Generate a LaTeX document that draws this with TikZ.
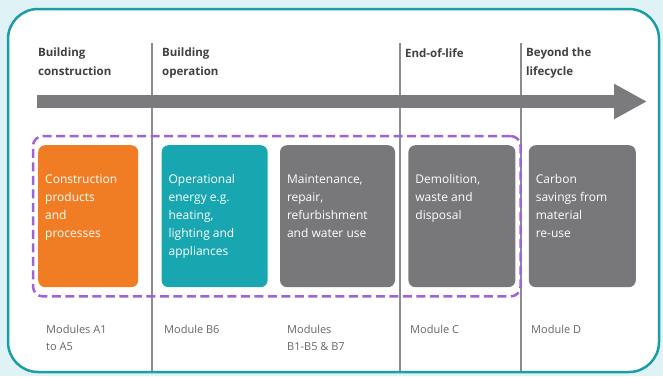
\documentclass[tikz,border=0pt]{standalone}
\usepackage{fontspec}
\setmainfont{Open Sans}
\usetikzlibrary{positioning}
\usetikzlibrary{fit}
\usetikzlibrary{arrows.meta}

\definecolor{pagebg}{HTML}{DFF3F6}
\definecolor{frameteal}{HTML}{1A9EA5}
\definecolor{arrowgrey}{HTML}{7B7B7D}
\definecolor{cardgrey}{HTML}{78787A}
\definecolor{cardorange}{HTML}{F07D23}
\definecolor{cardteal}{HTML}{18A6B0}
\definecolor{scopepurple}{HTML}{A062D6}

% card text: width, lines
\newcommand{\cardtext}[2]{\parbox[t][142pt][t]{#1}{\raggedright\vspace*{26pt}\strut#2}}

\begin{document}
\begin{tikzpicture}[x=1pt, y=-1pt,
  card/.style={rectangle, rounded corners=7pt, inner xsep=7pt, inner ysep=0pt, text=white, font=\fontsize{12}{18}\selectfont},
  stagehead/.style={anchor=north west, align=left, inner sep=0pt, text=black!75, font=\bfseries\fontsize{11.5}{19}\selectfont},
  modlabel/.style={anchor=north west, align=left, inner sep=0pt, text=black!60, font=\fontsize{11}{17}\selectfont},
  divider/.style={draw=black!45, line width=1.5pt},
  node distance = 13pt]
\useasboundingbox (0,0) rectangle (663,376);
\fill[pagebg] (0,0) rectangle (663,376);
\draw[frameteal, line width=2.5pt, fill=white, rounded corners=30pt] (8,9) rectangle (659,372);

% stage dividers
\draw[divider] (152,43) -- (152,371);
\draw[divider] (400,43) -- (400,371);
\draw[divider] (521,43) -- (521,371);

% stage headings
\node[stagehead] (hcons) at (38,48) {Building\\construction};
\node[stagehead] (hoper) at (162,48) {Building\\operation};
\node[stagehead] (hend) at (405,48) {End-of-life};
\node[stagehead] (hbeyond) at (526,48) {Beyond the\\lifecycle};

% timeline
\coordinate (tstart) at (37,101.5);
\coordinate (tend) at (647,101.5);
\draw[arrowgrey, line width=13pt, -{Triangle[length=33pt,width=33pt]}] (tstart) -- (tend);

% cards
\node[card, fill=cardorange, anchor=north west] (cons) at (38,145) {\cardtext{86pt}{Construction\\products\\and\\processes}};
\node[card, fill=cardteal] (oper) [right=23pt of cons] {\cardtext{92pt}{Operational\\energy e.g.\\heating,\\lighting and\\appliances}};
\node[card, fill=cardgrey] (maint) [right=12pt of oper] {\cardtext{101pt}{Maintenance,\\repair,\\refurbishment\\and water use}};
\node[card, fill=cardgrey] (demo) [right= of maint] {\cardtext{93pt}{Demolition,\\waste and\\disposal}};
\node[card, fill=cardgrey] (beyond) [right= of demo] {\cardtext{93pt}{Carbon\\savings from\\material\\re-use}};

% whole life scope
\node[draw=scopepurple, line width=2.5pt, dash pattern=on 9pt off 4.5pt, rounded corners=10pt, inner xsep=5pt, inner ysep=9pt, fit=(cons)(demo)] (scope) {};

% modules
\node[modlabel] (mcons) at (46,325) {Modules A1\\to A5};
\node[modlabel] (moper) at (164,325) {Module B6};
\node[modlabel] (mmaint) at (287,325) {Modules\\B1-B5 \& B7};
\node[modlabel] (mend) at (410,325) {Module C};
\node[modlabel] (mbeyond) at (531,325) {Module D};
\end{tikzpicture}
\end{document}
